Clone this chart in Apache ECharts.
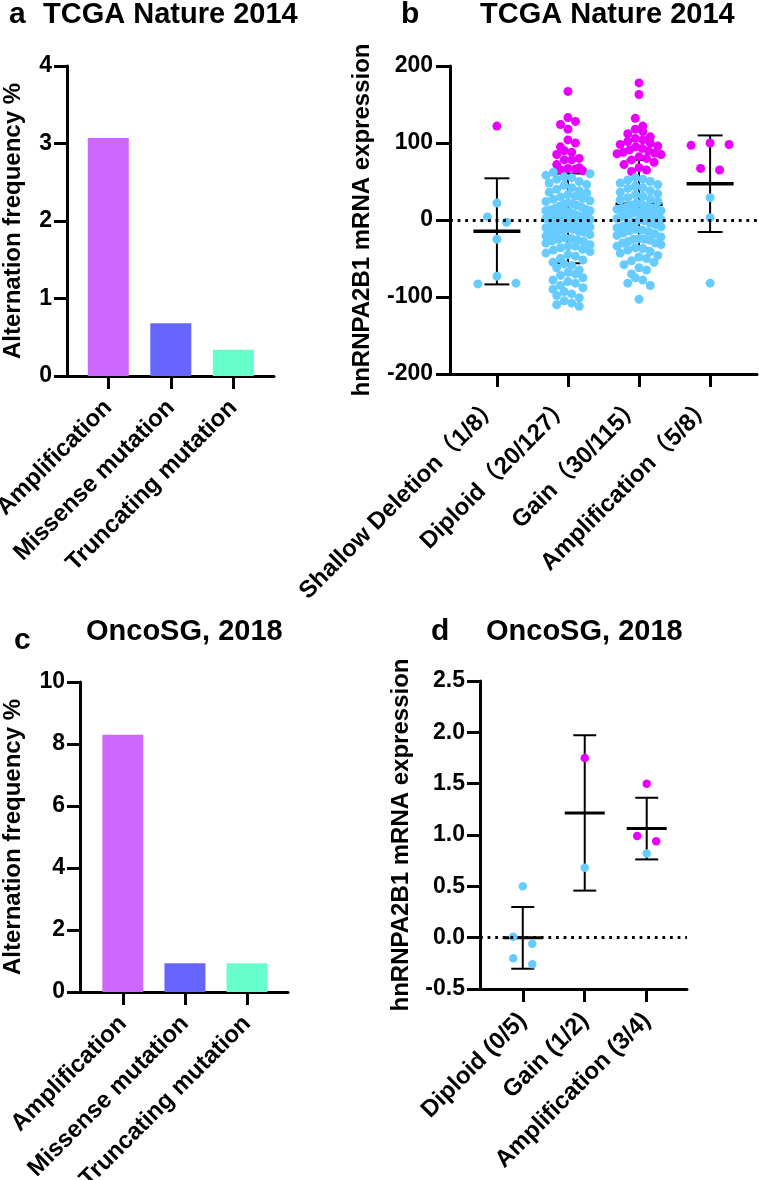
<!DOCTYPE html>
<html><head><meta charset="utf-8">
<script src="https://cdn.jsdelivr.net/npm/echarts@6/dist/echarts.min.js"></script>
<style>html,body{margin:0;padding:0;background:#fff}#c{width:759px;height:1180px}</style>
</head><body><div id="c"></div>
<script>
// ---------- data ----------
const barCats = ['Amplification', 'Missense mutation', 'Truncating mutation'];
const barValsA = [3.07, 0.68, 0.34];
const barValsC = [8.3, 0.93, 0.93];
const yTicksA = [0, 1, 2, 3, 4];
const yTicksB = [-200, -100, 0, 100, 200];
const yTicksC = [0, 2, 4, 6, 8, 10];
const yTicksD = [-0.5, 0, 0.5, 1, 1.5, 2, 2.5];

const catsB = ['Shallow Deletion（1/8）', 'Diploid（20/127）', 'Gain（30/115）', 'Amplification（5/8）'];
const shallowHigh = [122];
const shallowRest = [22, 4, -3, -25, -73, -82, -83];
const diploidHigh = [167, 133, 128, 124, 118, 104, 100, 95, 90, 88, 85, 80, 78, 78, 72, 68, 67, 66, 65, 64];
const diploidRest = [62, 60, 58, 56, 55, 53, 50, 48, 46, 45, 42, 40, 38, 36, 35, 33, 31, 30, 28, 27, 25, 24, 22, 21, 20,
  19, 18, 17, 15, 14, 13, 12, 11, 10, 8, 7, 6, 5, 4, 3, 2, 1, 0, -1, -2, -3, -5, -6, -8, -9, -10, -12, -13, -15, -16, -18, -19,
  -21, -23, -25, -27, -28, -30, -32, -34, -36, -38, -39, -41, -43, -45, -47, -50, -52, -55, -57, -59, -62, -65, -68, -70,
  -72, -75, -78, -80, -82, -85, -88, -90, -93, -96, -98, -101, -105, -108, -110, -112, -16, 9, -4, -7, -26, -34, -11, -24, 3, 12];
const gainHigh = [178, 163, 132, 122, 118, 115, 112, 108, 106, 104, 102, 100, 98, 96, 95, 93, 91, 90, 88, 87, 86, 85, 82, 80,
  78, 75, 72, 68, 65, 63];
const gainRest = [55, 53, 52, 50, 48, 46, 44, 42, 41, 38, 36, 34, 33, 31, 29, 27, 26, 24, 22, 21, 19, 17, 16, 14, 12, 11, 9, 8,
  6, 5, 4, 3, 1, 0, -1, -3, -4, -6, -8, -10, -12, -13, -15, -17, -18, -20, -22, -24, -26, -28, -30, -32, -34, -36, -37, -39,
  -41, -43, -46, -48, -50, -53, -55, -58, -62, -65, -70, -75, -78, -82, -85, -103, 10, 15, -25, -30, 5, 15, -5, -9, -25, 2, 7, 18, -14];
const amplHigh = [100, 98, 97, 67, 65];
const amplRest = [29, 3, -82];

const catsD = ['Diploid (0/5)', 'Gain (1/2)', 'Amplification (3/4)'];
const diploidHighD = [];
const diploidRestD = [0.50, 0.01, -0.06, -0.20, -0.26];
const gainHighD = [1.75];
const gainRestD = [0.68];
const amplHighD = [1.50, 0.99, 0.94];
const amplRestD = [0.82];

// ---------- styles / layout ----------
const FONT = '"Liberation Sans", Arial, "Noto Sans CJK SC", sans-serif';
const barColors = ['#CC66FF', '#6666FF', '#66FFCC'];
const PINK = '#E800FF', BLUE = '#66CCFF';
const gA = {left: 67, top: 66, width: 207, height: 310};
const gB = {left: 450, top: 66, width: 307, height: 308};
const gC = {left: 80, top: 682, width: 208, height: 310};
const gD = {left: 480, top: 681, width: 207, height: 308};
const xRA = [-0.66, 2.65], xRB = [-0.66, 3.66], xRC = [-0.69, 2.66], xRD = [-0.69, 2.65];

const groupsB = [
  {high: shallowHigh, rest: shallowRest},
  {high: diploidHigh, rest: diploidRest},
  {high: gainHigh, rest: gainRest},
  {high: amplHigh, rest: amplRest}
];
const groupsD = [
  {high: diploidHighD, rest: diploidRestD},
  {high: gainHighD, rest: gainRestD},
  {high: amplHighD, rest: amplRestD}
];

// row-based dot plot layout (GraphPad-like): close values share a row and spread sideways
function layoutGroups(groups, xR, grid, yR, opt) {
  const pxX = grid.width / (xR[1] - xR[0]);
  const pxY = grid.height / (yR[1] - yR[0]);
  const high = [], rest = [];
  groups.forEach((g, gi) => {
    const pts = g.high.map(v => ({v, h: true})).concat(g.rest.map(v => ({v, h: false})));
    const big = pts.length > opt.smallN;
    pts.sort((a, b) => b.v - a.v);
    const rows = []; let cur = null;
    pts.forEach(p => {
      if (!cur || (cur.top - p.v) * pxY > opt.rowH) { cur = {top: p.v, items: []}; rows.push(cur); }
      cur.items.push(p);
    });
    rows.forEach(r => {
      const k = r.items.length;
      const s = !big ? opt.sMax : Math.min(opt.sMid, opt.spread / Math.max(1, k - 1));
      const slots = [];
      for (let i = 0; i < k; i++) slots.push((i - (k - 1) / 2) * s);
      const mid = Math.floor((k - 1) / 2);
      const order = [mid];
      for (let d = 1; order.length < k; d++) {
        if (mid + d < k) order.push(mid + d);
        if (mid - d >= 0 && order.length < k) order.push(mid - d);
      }
      r.items.forEach((p, i) => {
        (p.h ? high : rest).push([gi + slots[order[i]] / pxX, p.v]);
      });
    });
  });
  return {high, rest};
}
function stats(groups) {
  return groups.map((g, gi) => {
    const all = g.high.concat(g.rest);
    const n = all.length;
    const m = all.reduce((a, b) => a + b, 0) / n;
    const sd = Math.sqrt(all.reduce((a, b) => a + (b - m) * (b - m), 0) / (n - 1));
    return [gi, m, m - sd, m + sd];
  });
}
const swarmOpt = {rowH: 8, sMax: 19, sMid: 7.5, spread: 44, smallN: 12};
const ptsB = layoutGroups(groupsB, xRB, gB, [yTicksB[0], yTicksB[yTicksB.length - 1]], swarmOpt);
const ptsD = layoutGroups(groupsD, xRD, gD, [yTicksD[0], yTicksD[yTicksD.length - 1]], swarmOpt);
const statB = stats(groupsB);
const statD = stats(groupsD);

const txt = {color: '#000', fontWeight: 'bold', fontFamily: FONT};
function xAxisOf(gi, xR, cats, margin) {
  const vals = cats.map((c, i) => i);
  return {
    type: 'value', gridIndex: gi, min: xR[0], max: xR[1],
    splitLine: {show: false},
    axisLine: {show: true, onZero: false, lineStyle: {color: '#000', width: 3}},
    axisTick: {show: true, customValues: vals, length: 13, lineStyle: {color: '#000', width: 3}},
    axisLabel: Object.assign({customValues: vals, formatter: v => cats[Math.round(v)], rotate: 45,
      margin: margin, fontSize: 24}, txt)
  };
}
function yAxisOf(gi, ticks, name, gap, margin, tickLen, fmt) {
  return {
    type: 'value', gridIndex: gi, min: ticks[0], max: ticks[ticks.length - 1], interval: ticks[1] - ticks[0],
    splitLine: {show: false},
    axisLine: {show: true, onZero: false, lineStyle: {color: '#000', width: 3}},
    axisTick: {show: true, length: tickLen, lineStyle: {color: '#000', width: 3}},
    axisLabel: Object.assign({fontSize: 23, margin: margin, formatter: fmt}, txt),
    name: name, nameLocation: 'middle', nameGap: gap, nameMoveOverlap: false,
    nameTextStyle: Object.assign({fontSize: 24}, txt)
  };
}
function errSeries(xi, data, meanW, capW, meanLW) {
  return {
    type: 'custom', xAxisIndex: xi, yAxisIndex: xi, z: 2, silent: true,
    encode: {x: 0, y: [1, 2, 3]},
    data: data,
    renderItem: (params, api) => {
      const x = api.value(0), m = api.value(1), lo = api.value(2), hi = api.value(3);
      const pm = api.coord([x, m]), pl = api.coord([x, lo]), ph = api.coord([x, hi]);
      const st = {stroke: '#000', lineWidth: 2};
      return {type: 'group', children: [
        {type: 'line', shape: {x1: pl[0], y1: pl[1], x2: ph[0], y2: ph[1]}, style: st},
        {type: 'line', shape: {x1: ph[0] - capW, y1: ph[1], x2: ph[0] + capW, y2: ph[1]}, style: st},
        {type: 'line', shape: {x1: pl[0] - capW, y1: pl[1], x2: pl[0] + capW, y2: pl[1]}, style: st},
        {type: 'line', shape: {x1: pm[0] - meanW, y1: pm[1], x2: pm[0] + meanW, y2: pm[1]}, style: {stroke: '#000', lineWidth: meanLW}}
      ]};
    }
  };
}
const dotted = {
  silent: true, symbol: ['none', 'none'], label: {show: false},
  lineStyle: {color: '#000', width: 2.8, type: [2.8, 4.8]},
  data: [{yAxis: 0}]
};
function titleOf(text, left, top, size) {
  return {text: text, left: left, top: top, padding: 0, textStyle: Object.assign({fontSize: size}, txt)};
}

const option = {
  animation: false,
  backgroundColor: '#fff',
  title: [
    titleOf('a', 9, 0, 30), titleOf('TCGA Nature 2014', 43, 0, 29),
    titleOf('b', 401, 0, 30), titleOf('TCGA Nature 2014', 480, 0, 29),
    titleOf('c', 14, 626, 30), titleOf('OncoSG, 2018', 86, 617, 29),
    titleOf('d', 431, 617, 30), titleOf('OncoSG, 2018', 486, 617, 29)
  ],
  grid: [gA, gB, gC, gD].map(g => Object.assign({containLabel: false, outerBoundsMode: 'none'}, g)),
  xAxis: [
    xAxisOf(0, xRA, barCats, 28), xAxisOf(1, xRB, catsB, 28),
    xAxisOf(2, xRC, barCats, 28), xAxisOf(3, xRD, catsD, 28)
  ],
  yAxis: [
    yAxisOf(0, yTicksA, 'Alternation frequency %', 42, 15, 13),
    yAxisOf(1, yTicksB, 'hnRNPA2B1 mRNA expression', 76, 17, 14),
    yAxisOf(2, yTicksC, 'Alternation frequency %', 55, 15, 13),
    yAxisOf(3, yTicksD, 'hnRNPA2B1 mRNA expression', 67, 15, 13, v => v.toFixed(1))
  ],
  series: [
    {type: 'bar', xAxisIndex: 0, yAxisIndex: 0, barWidth: 41,
     data: barValsA.map((v, i) => ({value: [i, v], itemStyle: {color: barColors[i]}}))},
    {type: 'bar', xAxisIndex: 2, yAxisIndex: 2, barWidth: 41,
     data: barValsC.map((v, i) => ({value: [i, v], itemStyle: {color: barColors[i]}}))},
    errSeries(1, statB, 23.5, 12.5, 3.5),
    {type: 'scatter', xAxisIndex: 1, yAxisIndex: 1, z: 3, symbolSize: 9, itemStyle: {color: PINK, opacity: 1},
     data: ptsB.high, markLine: dotted},
    {type: 'scatter', xAxisIndex: 1, yAxisIndex: 1, z: 4, symbolSize: 9, itemStyle: {color: BLUE, opacity: 1},
     data: ptsB.rest},
    errSeries(3, statD, 20, 11.5, 3),
    {type: 'scatter', xAxisIndex: 3, yAxisIndex: 3, z: 3, symbolSize: 8.5, itemStyle: {color: PINK, opacity: 1},
     data: ptsD.high, markLine: dotted},
    {type: 'scatter', xAxisIndex: 3, yAxisIndex: 3, z: 4, symbolSize: 8.5, itemStyle: {color: BLUE, opacity: 1},
     data: ptsD.rest}
  ]
};
const chart = echarts.init(document.getElementById('c'), null, {renderer: 'canvas'});
chart.setOption(option);
</script>
</body></html>
